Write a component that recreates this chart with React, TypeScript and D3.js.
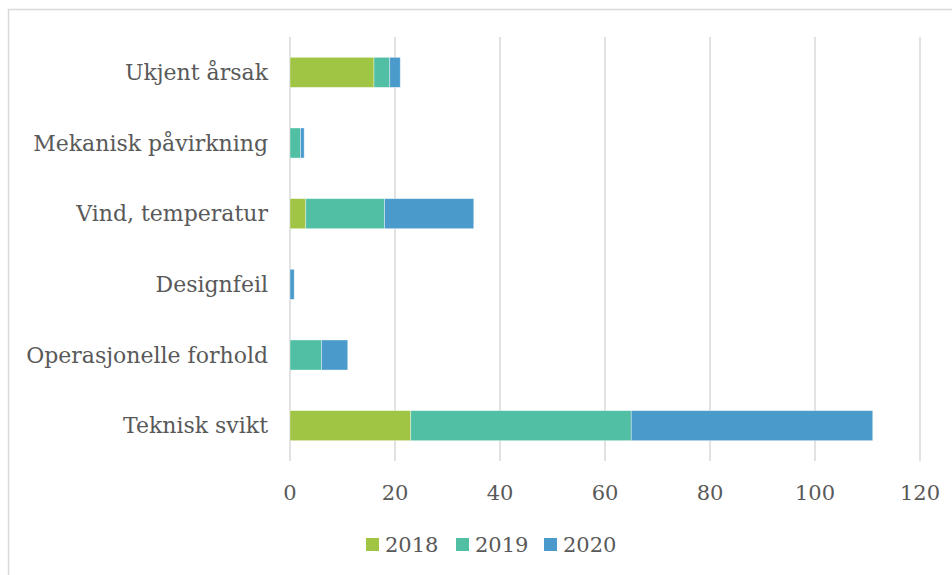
import React from "react";
import * as d3 from "d3";

const categories = [
  "Ukjent årsak",
  "Mekanisk påvirkning",
  "Vind, temperatur",
  "Designfeil",
  "Operasjonelle forhold",
  "Teknisk svikt",
];
const seriesNames = ["2018", "2019", "2020"];
const values2018 = [16, 0, 3, 0, 0, 23];
const values2019 = [3, 2, 15, 0, 6, 42];
const values2020 = [2, 0.7, 17, 0.8, 5, 46];
const xTicks = [0, 20, 40, 60, 80, 100, 120];
const colors = ["#A0C444", "#51BFA4", "#4A9BCB"];

const W = 952;
const H = 575;
const FONT = "'DejaVu Serif', serif";

export default function App() {
  const x = d3.scaleLinear().domain([0, 120]).range([290, 920]);
  const y = d3
    .scaleBand<string>()
    .domain(categories)
    .range([37, 461])
    .paddingInner(0.575)
    .paddingOuter(0.2875);

  const rows = categories.map((c, i) => ({
    cat: c,
    "2018": values2018[i],
    "2019": values2019[i],
    "2020": values2020[i],
  }));
  const stacked = d3.stack<any>().keys(seriesNames)(rows);

  const legendX = [366, 456, 544];

  return (
    <div style={{ position: "absolute", left: 0, top: 0, width: W, height: H, background: "#fff" }}>
      <svg width={W} height={H} style={{ display: "block" }}>
        <rect x={0} y={0} width={W} height={H} fill="#fff" />
        <rect x={8.5} y={9.5} width={W + 20} height={H + 20} fill="none" stroke="#d9d9d9" strokeWidth={1.5} />
        {xTicks.map((t) => (
          <line key={t} x1={x(t)} x2={x(t)} y1={37} y2={461} stroke="#d9d9d9" strokeWidth={1.5} />
        ))}
        {stacked.map((s, si) => (
          <g key={s.key} fill={colors[si]}>
            {s.map((d, di) =>
              d[1] - d[0] > 0 ? (
                <rect
                  key={di}
                  x={x(d[0])}
                  y={y(categories[di])!}
                  width={x(d[1]) - x(d[0])}
                  height={y.bandwidth()}
                  stroke="#ffffff"
                  strokeOpacity={0.5}
                  strokeWidth={0.75}
                />
              ) : null
            )}
          </g>
        ))}
        {categories.map((c) => (
          <text
            key={c}
            x={268}
            y={y(c)! + y.bandwidth() / 2}
            dy="0.35em"
            textAnchor="end"
            fontFamily={FONT}
            fontSize={22}
            fill="#595959"
          >
            {c}
          </text>
        ))}
        {xTicks.map((t) => (
          <text
            key={t}
            x={x(t)}
            y={493}
            dy="0.35em"
            textAnchor="middle"
            fontFamily={FONT}
            fontSize={21}
            fill="#595959"
          >
            {t}
          </text>
        ))}
        {seriesNames.map((s, i) => (
          <g key={s}>
            <rect x={legendX[i]} y={538} width={13} height={13} fill={colors[i]} />
            <text x={legendX[i] + 19} y={545} dy="0.35em" fontFamily={FONT} fontSize={21} fill="#595959">
              {s}
            </text>
          </g>
        ))}
      </svg>
    </div>
  );
}
